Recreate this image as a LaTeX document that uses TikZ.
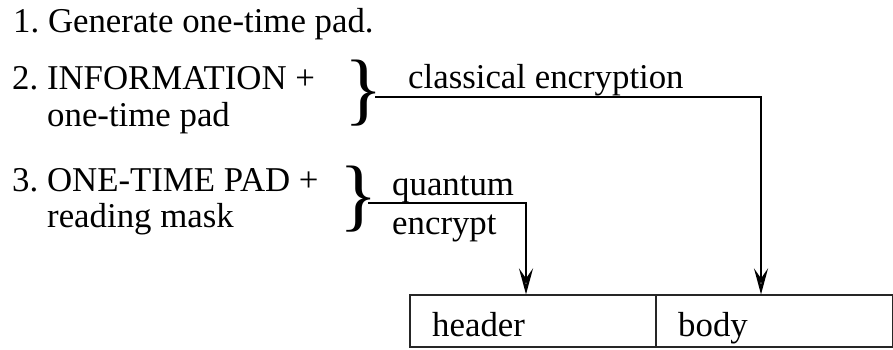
\documentclass[tikz,border=0pt]{standalone}
\usepackage{fontspec}
\setmainfont{Liberation Serif}
\usetikzlibrary{arrows.meta}
\frenchspacing
\begin{document}
\begin{tikzpicture}[x=1pt,y=1pt,
  txt/.style={anchor=base west,inner sep=0pt,font=\fontsize{34.8}{40}\selectfont\frenchspacing},
  bracenode/.style={inner sep=0pt,font=\fontsize{80}{80}\selectfont},
  cell/.style={draw=black!85,line width=1.6pt,anchor=south west,minimum height=52pt,inner sep=0pt},
  conn/.style={line width=2.5pt,-{Stealth[open,length=26pt,width=14pt,inset=10pt,line width=2.5pt]}}]
\useasboundingbox (0,0) rectangle (893,350);
% left column
\node[txt] (l1) at (13,317) {1. Generate one-time pad.};
\node[txt] (l2a) at (12,260) {2. INFORMATION +};
\node[txt] (l2b) at (47,223) {one-time pad};
\node[txt] (l3a) at (12,158) {3. ONE-TIME PAD +};
\node[txt] (l3b) at (47,122) {reading mask};
% braces
\node[bracenode] (br1) at (364,257) {\}};
\node[bracenode] (br2) at (359,151) {\}};
\coordinate (c1) at (375,253);
\coordinate (c2) at (368,147);
% labels
\node[txt] (lab1) at (408,261) {classical encryption};
\node[txt] (lab2) at (392,154) {quantum};
\node[txt] (lab3) at (392,115) {encrypt};
% boxes
\node[cell,minimum width=246pt] (hbox) at (409,2) {};
\node[cell,minimum width=237pt] (bbox) at (655,2) {};
\node[txt] (htxt) at (432,13) {header};
\node[txt] (btxt) at (678,13) {body};
\coordinate (t1) at ([xshift=106pt]bbox.north west);
\coordinate (t2) at ([xshift=117pt]hbox.north west);
% connectors
\draw[conn] (c1) -| (t1);
\draw[conn] (c2) -| (t2);
\end{tikzpicture}
\end{document}
